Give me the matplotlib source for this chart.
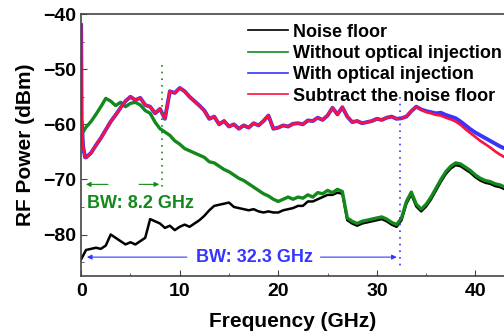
import matplotlib
matplotlib.use("Agg")
import matplotlib.pyplot as plt
from matplotlib.ticker import MultipleLocator

plt.rcParams['font.family'] = ['Liberation Sans', 'DejaVu Sans']
plt.rcParams['font.weight'] = 'bold'

# frequency grid (GHz), 0.5 GHz steps
freq = [i * 0.5 for i in range(87)]

noise_floor = [
    -84.5, -82.8, -82.6, -82.4, -82.6, -82.0, -80.0, -80.6, -81.2, -81.8,
    -81.4, -81.8, -81.2, -80.6, -77.2, -77.6, -78.0, -78.8, -78.4, -79.2,
    -78.6, -78.2, -78.6, -78.0, -77.4, -76.6, -75.6, -74.8, -74.6, -74.4,
    -74.2, -75.0, -75.2, -75.4, -75.6, -75.4, -75.8, -76.0, -75.8, -76.0,
    -76.0, -75.6, -75.4, -75.2, -74.8, -74.8, -74.0, -74.0, -73.6, -73.2,
    -72.8, -72.8, -72.4, -72.6, -77.4, -78.0, -78.4, -78.0, -77.8, -77.6,
    -77.4, -77.2, -77.6, -78.2, -78.6, -77.4, -74.4, -72.7, -74.9, -75.8,
    -74.9, -73.6, -72.0, -70.4, -69.0, -68.0, -67.4, -67.6, -68.2, -68.8,
    -69.6, -70.2, -70.6, -70.8, -71.2, -71.4, -71.8,
]

without_inj = [
    -62.0, -60.5, -59.5, -58.2, -56.8, -55.3, -55.8, -56.6, -56.0, -56.8,
    -56.2, -56.0, -56.5, -57.5, -58.0, -59.6, -60.8, -61.4, -62.0, -63.0,
    -63.6, -64.4, -64.8, -65.2, -65.6, -66.0, -66.8, -67.0, -67.6, -68.2,
    -68.6, -69.2, -69.8, -70.2, -70.8, -71.4, -72.0, -72.6, -73.0, -73.6,
    -74.0, -73.6, -73.2, -73.6, -73.2, -73.4, -72.8, -73.2, -72.4, -72.6,
    -72.0, -72.4, -71.8, -72.2, -77.0, -77.6, -78.0, -77.6, -77.4, -77.2,
    -77.0, -76.8, -77.2, -77.8, -78.2, -77.0, -74.0, -72.3, -74.5, -75.4,
    -74.5, -73.2, -71.6, -70.0, -68.6, -67.6, -67.0, -67.2, -67.8, -68.4,
    -69.2, -69.8, -70.2, -70.4, -70.8, -71.0, -71.4,
]

# first points of the injected trace (spike at DC)
start_f = [0.0, 0.05, 0.2, 0.4]
start_p = [-42.0, -59.0, -64.0, -66.0]

with_inj = [
    -66.0, -65.2, -63.8, -62.5, -61.0, -59.5, -58.3, -57.0, -55.8,
    -55.0, -55.6, -55.2, -56.5, -56.8, -58.0, -57.2, -59.0, -54.0, -54.3,
    -53.4, -54.0, -55.0, -55.8, -56.6, -57.5, -59.0, -58.6, -60.0, -59.4,
    -60.4, -60.0, -60.8, -60.2, -60.6, -59.8, -60.2, -59.4, -58.4, -60.8,
    -60.6, -60.2, -60.4, -59.9, -59.8, -60.0, -59.3, -59.4, -58.8, -59.2,
    -58.4, -57.0, -58.2, -56.9, -58.6, -59.6, -59.4, -59.8, -59.6, -59.4,
    -59.0, -59.2, -58.8, -58.6, -59.0, -58.9, -58.6, -57.6, -56.8, -57.3,
    -57.6, -57.8, -58.0, -57.9, -58.3, -58.6, -58.9, -59.5, -60.2, -60.9,
    -61.5, -62.0, -62.5, -63.0, -63.5, -64.0, -64.4,
]
# subtracted trace departs from the injected one above 35 GHz
sub_tail = [
    -57.8, -58.0, -58.3, -58.4, -58.8, -59.1, -59.5, -60.1, -60.9, -61.6,
    -62.3, -63.0, -63.6, -64.2, -64.9, -65.5, -66.0,
]
subtracted = with_inj[:-len(sub_tail)] + sub_tail

f_inj = start_f + freq[1:]
p_inj = start_p + with_inj
p_sub = start_p + subtracted

green = '#12891a'
blue = '#3535ff'
red = '#ff1040'

fig = plt.figure(figsize=(5.04, 3.36), dpi=100)
ax = fig.add_axes([0.161, 0.179, 0.839, 0.779])

ax.plot(freq, noise_floor, color='black', lw=1.8, label='Noise floor')
ax.plot(freq, without_inj, color=green, lw=2.4, label='Without optical injection')
ax.plot(f_inj, p_inj, color=blue, lw=2.8, label='With optical injection')
ax.plot(f_inj, p_sub, color=red, lw=1.9, label='Subtract the noise floor')

ax.set_xlim(0, 42.9)
ax.set_ylim(-87.5, -40)
ax.xaxis.set_major_locator(MultipleLocator(10))
ax.xaxis.set_minor_locator(MultipleLocator(5))
ax.yaxis.set_major_locator(MultipleLocator(10))
ax.yaxis.set_minor_locator(MultipleLocator(5))
ax.tick_params(which='both', direction='in', labelsize=14, color='#444444')
ax.tick_params(which='major', length=4)
ax.tick_params(which='minor', length=2.5)
ax.tick_params(axis='x', pad=5)
for s in ['left', 'bottom', 'top']:
    ax.spines[s].set_color('#444444')
    ax.spines[s].set_linewidth(1.2)
ax.spines['right'].set_visible(False)

ax.set_xlabel('Frequency (GHz)', fontsize=15, fontweight='bold', labelpad=9)
ax.set_ylabel('RF Power (dBm)', fontsize=15, fontweight='bold', labelpad=6)

# bandwidth markers
ax.plot([8.2, 8.2], [-49.2, -71.8], color=green, lw=1.2, ls=(0, (1, 3)))
ax.plot([32.3, 32.3], [-55, -86.5], color=blue, lw=1.2, ls=(0, (1, 3)))
arrow_g = dict(arrowstyle='-|>', color=green, lw=0.8, mutation_scale=7)
arrow_b = dict(arrowstyle='-|>', color=blue, lw=0.8, mutation_scale=7)
ax.annotate('', xy=(0.2, -70.9), xytext=(3.0, -70.9), arrowprops=arrow_g)
ax.annotate('', xy=(8.2, -70.9), xytext=(5.6, -70.9), arrowprops=arrow_g)
ax.annotate('', xy=(0.3, -84.1), xytext=(11.0, -84.1), arrowprops=arrow_b)
ax.annotate('', xy=(32.3, -84.1), xytext=(24.0, -84.1), arrowprops=arrow_b)
ax.text(6.0, -74.4, 'BW: 8.2 GHz', color=green, fontsize=13, fontweight='bold',
        ha='center', va='center')
ax.text(17.6, -84.1, 'BW: 32.3 GHz', color=blue, fontsize=13, fontweight='bold',
        ha='center', va='center')

leg = ax.legend(loc='upper left', bbox_to_anchor=(0.39, 0.97), frameon=False,
                fontsize=13, handlelength=2.2, handletextpad=0.3,
                labelspacing=0.24, borderpad=0.1, borderaxespad=0)
for line in leg.get_lines():
    line.set_linewidth(1.2)

fig.savefig('out.png', dpi=100)
